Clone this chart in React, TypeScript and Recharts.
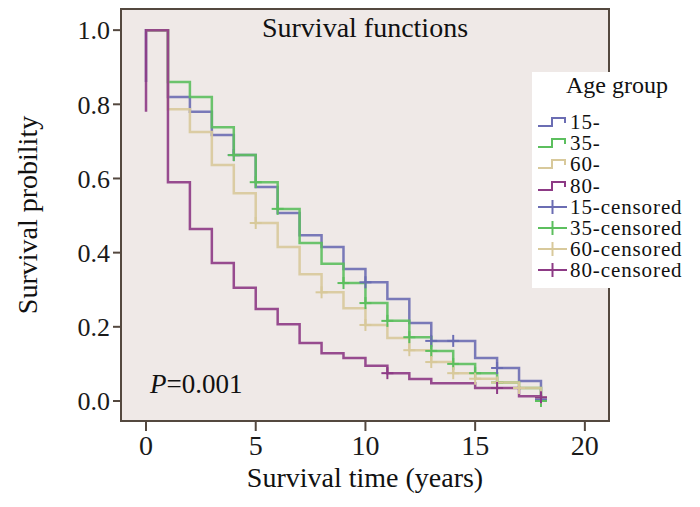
import React from 'react';
import { ComposedChart, Line, Scatter, XAxis, YAxis, ReferenceArea } from 'recharts';

// time points (years) at which the step functions change
const times = [0, 1, 2, 3, 4, 5, 6, 7, 8, 9, 10, 11, 12, 13, 14, 15, 16, 17, 18];

const groups = ['15-', '35-', '60-', '80-'];
const colors = ['#6b6db3', '#5cbf5e', '#d8c99b', '#8d3a85'];
// value where the short vertical stroke at t=0 begins
const startValues = [0.86, 1, 1, 0.78];

const surv15 = [1, 0.82, 0.78, 0.717, 0.663, 0.577, 0.507, 0.447, 0.415, 0.356, 0.32, 0.275, 0.21, 0.162, 0.162, 0.116, 0.089, 0.054, 0.005];
const surv35 = [1, 0.86, 0.82, 0.738, 0.663, 0.59, 0.518, 0.426, 0.37, 0.318, 0.264, 0.216, 0.172, 0.135, 0.1, 0.075, 0.05, 0.035, 0.0];
const surv60 = [1, 0.787, 0.725, 0.636, 0.56, 0.48, 0.415, 0.342, 0.293, 0.25, 0.205, 0.17, 0.137, 0.105, 0.075, 0.06, 0.05, 0.035, 0.01];
const surv80 = [1, 0.59, 0.464, 0.372, 0.305, 0.248, 0.207, 0.156, 0.129, 0.116, 0.095, 0.075, 0.059, 0.048, 0.048, 0.035, 0.035, 0.013, 0.01];

const censor15 = [4, 10, 13, 14, 16, 18];
const censor35 = [4, 5, 6, 9, 10, 11, 12, 13, 14, 15, 16, 18];
const censor60 = [5, 8, 10, 12, 13, 14, 15, 16, 17, 18];
const censor80 = [11, 16, 18];

const xTicks = [0, 5, 10, 15, 20];
const yTicks = [0, 0.2, 0.4, 0.6, 0.8, 1.0];

const FONT = '"Liberation Serif", "Times New Roman", serif';
const FRAME = '#54483f';
const PLOT_BG = '#efe9e7';

const survs = [surv15, surv35, surv60, surv80];
const censors = [censor15, censor35, censor60, censor80];

const series = groups.map((g, i) => ({
  name: g,
  color: colors[i],
  points: [{ t: 0, s: startValues[i] }, ...times.map((t, k) => ({ t, s: survs[i][k] }))],
  marks: censors[i].map(t => ({ t, s: survs[i][times.indexOf(t)] })),
}));

function plusShape(color: string) {
  return (props: any) => {
    const { cx, cy } = props;
    return (
      <g>
        <line x1={cx - 6} x2={cx + 6} y1={cy} y2={cy} stroke={color} strokeWidth={2} />
        <line x1={cx} x2={cx} y1={cy - 6} y2={cy + 6} stroke={color} strokeWidth={2} />
      </g>
    );
  };
}

function StepIcon({ color }: { color: string }) {
  return (
    <svg width={32} height={14} style={{ display: 'block' }}>
      <path d="M1,11 H15 V3 H28 V8" fill="none" stroke={color} strokeWidth={2} />
    </svg>
  );
}

function PlusIcon({ color }: { color: string }) {
  return (
    <svg width={32} height={14} style={{ display: 'block' }}>
      <line x1={1} x2={30} y1={7} y2={7} stroke={color} strokeWidth={2} />
      <line x1={15.5} x2={15.5} y1={0} y2={14} stroke={color} strokeWidth={2} />
    </svg>
  );
}

function LegendBox() {
  const rows = [
    ...series.map(s => ({ label: s.name, color: s.color, kind: 'step' })),
    ...series.map(s => ({ label: `${s.name}censored`, color: s.color, kind: 'plus' })),
  ];
  return (
    <div style={{ position: 'absolute', left: 532, top: 72, width: 168, height: 216, background: '#fff', fontFamily: FONT, color: '#111' }}>
      <div style={{ position: 'absolute', left: 0, width: 168, top: 1, textAlign: 'center', fontSize: 24, lineHeight: '24px', paddingLeft: 2, boxSizing: 'border-box' }}>
        Age group
      </div>
      {rows.map((r, i) => (
        <div key={r.label} style={{ position: 'absolute', left: 5, top: 40 + i * 21.2, height: 20, display: 'flex', alignItems: 'center' }}>
          {r.kind === 'step' ? <StepIcon color={r.color} /> : <PlusIcon color={r.color} />}
          <span style={{ fontSize: 21, lineHeight: '20px', marginLeft: 1, letterSpacing: 0.9 }}>{r.label}</span>
        </div>
      ))}
    </div>
  );
}

export default function App() {
  return (
    <div style={{ position: 'absolute', left: 0, top: 0, width: 700, height: 507, background: '#fff' }}>
      <ComposedChart width={700} height={507} margin={{ top: 9, right: 91, bottom: 0, left: 0 }}>
        <XAxis type="number" dataKey="t" domain={[-1.14, 21.1]} ticks={xTicks} allowDataOverflow
          height={86} tickSize={10} tickMargin={4} axisLine={false}
          tickLine={{ stroke: FRAME, strokeWidth: 2 }}
          tick={{ fill: '#1a1a1a', fontSize: 28, fontFamily: FONT }} />
        <YAxis type="number" domain={[-0.054, 1.057]} ticks={yTicks} allowDataOverflow
          width={121} tickSize={8} tickMargin={3} axisLine={false}
          tickFormatter={(v: number) => v.toFixed(1)}
          tickLine={{ stroke: FRAME, strokeWidth: 2 }}
          tick={{ fill: '#1a1a1a', fontSize: 26, fontFamily: FONT }} />
        <ReferenceArea x1={-1.14} x2={21.1} y1={-0.054} y2={1.057}
          fill={PLOT_BG} fillOpacity={1} stroke={FRAME} strokeWidth={2} ifOverflow="visible" />
        {series.map(s => (
          <Line key={s.name} data={s.points} dataKey="s" name={s.name} type="stepAfter"
            stroke={s.color} strokeWidth={2.5} strokeOpacity={0.9} dot={false} activeDot={false}
            isAnimationActive={false} legendType="none" />
        ))}
        {series.map(s => (
          <Scatter key={`${s.name}c`} data={s.marks} dataKey="s" name={`${s.name}censored`}
            shape={plusShape(s.color)} isAnimationActive={false} legendType="none" />
        ))}
      </ComposedChart>
      <svg width={700} height={507} style={{ position: 'absolute', left: 0, top: 0, pointerEvents: 'none' }}>
        <text x={365} y={37} textAnchor="middle" fontFamily={FONT} fontSize={28} fill="#111">Survival functions</text>
        <text x={150} y={393} fontFamily={FONT} fontSize={27} fill="#111">
          <tspan fontStyle="italic">P</tspan>=0.001
        </text>
        <text x={365} y={487} textAnchor="middle" fontFamily={FONT} fontSize={28} fill="#111">Survival time (years)</text>
        <text transform="translate(37,215) rotate(-90)" textAnchor="middle" fontFamily={FONT} fontSize={28} fill="#111">Survival probility</text>
      </svg>
      <LegendBox />
    </div>
  );
}
